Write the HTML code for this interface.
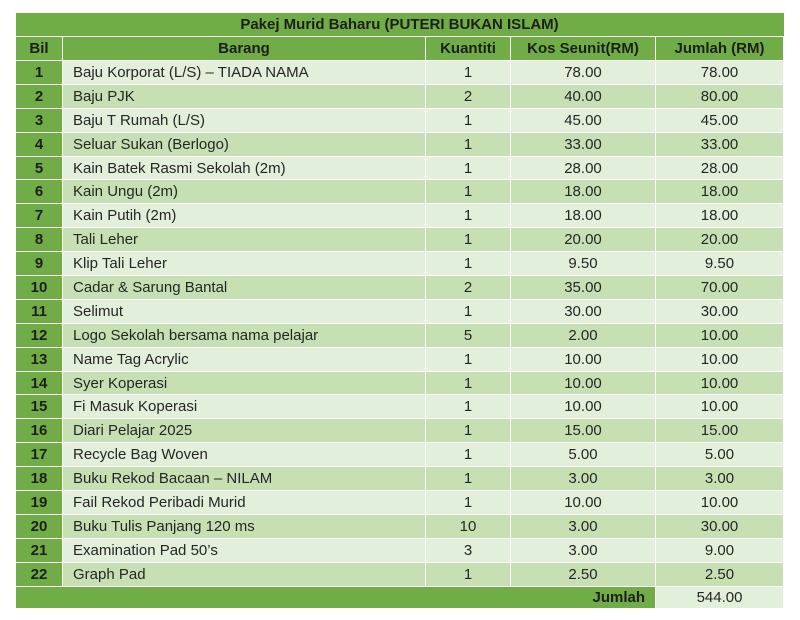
<!DOCTYPE html>
<html><head><meta charset="utf-8"><style>
body{margin:0;width:800px;height:620px;background:#fff;font-family:"Liberation Sans",sans-serif;}
table{position:absolute;left:15px;top:13px;border-collapse:collapse;table-layout:fixed;width:768px;}
td,th{border:1px solid #fff;padding:0;font-size:15px;color:#262626;text-align:center;white-space:nowrap;overflow:hidden;}
th{background:#70ad47;font-weight:bold;color:#1e1e1e;}
tr.t th{height:23px;border-top:none;border-left:none;border-right:none;}
tr.h th{height:23px;}
tr.r td{height:22.9px;}
tr.r td.b{background:#70ad47;font-weight:bold;color:#1e1e1e;}
tr.r td.n{text-align:left;padding-left:10px;}
tr.o td{background:#e2efda;}
tr.e td{background:#c6e0b4;}
tr.f td{height:21px;}
</style></head><body>
<table>
<colgroup><col style="width:47px"><col style="width:363px"><col style="width:85px"><col style="width:145px"><col style="width:128px"></colgroup>
<tr class="t"><th colspan="5">Pakej Murid Baharu (PUTERI BUKAN ISLAM)</th></tr>
<tr class="h"><th>Bil</th><th>Barang</th><th>Kuantiti</th><th>Kos Seunit(RM)</th><th>Jumlah (RM)</th></tr>
<tbody id="body"></tbody>
<tr class="r f"><td class="b" colspan="4" style="text-align:right;padding-right:10px;background:#70ad47;font-weight:bold">Jumlah</td><td style="background:#e2efda">544.00</td></tr>
</table>
<script>
const items=["Baju Korporat (L/S) – TIADA NAMA","Baju PJK","Baju T Rumah (L/S)","Seluar Sukan (Berlogo)","Kain Batek Rasmi Sekolah (2m)","Kain Ungu (2m)","Kain Putih (2m)","Tali Leher","Klip Tali Leher","Cadar & Sarung Bantal","Selimut","Logo Sekolah bersama nama pelajar","Name Tag Acrylic","Syer Koperasi","Fi Masuk Koperasi","Diari Pelajar 2025","Recycle Bag Woven","Buku Rekod Bacaan – NILAM","Fail Rekod Peribadi Murid","Buku Tulis Panjang 120 ms","Examination Pad 50’s","Graph Pad"];
const qty=[1,2,1,1,1,1,1,1,1,2,1,5,1,1,1,1,1,1,1,10,3,1];
const unit=["78.00","40.00","45.00","33.00","28.00","18.00","18.00","20.00","9.50","35.00","30.00","2.00","10.00","10.00","10.00","15.00","5.00","3.00","10.00","3.00","3.00","2.50"];
const total=["78.00","80.00","45.00","33.00","28.00","18.00","18.00","20.00","9.50","70.00","30.00","10.00","10.00","10.00","10.00","15.00","5.00","3.00","10.00","30.00","9.00","2.50"];
const tb=document.getElementById('body');
items.forEach((it,i)=>{
 const tr=document.createElement('tr');
 tr.className='r '+(i%2?'e':'o');
 
 
 const cells=[[String(i+1),'b','bil'],[it,'n','barang'],[String(qty[i]),'','kuantiti'],[unit[i],'','kos'],[total[i],'','jumlah']];
 cells.forEach(c=>{const td=document.createElement('td');td.textContent=c[0];if(c[1])td.className=c[1];
 
 
 tr.appendChild(td);});
 tb.appendChild(tr);
});
</script>
</body></html>
